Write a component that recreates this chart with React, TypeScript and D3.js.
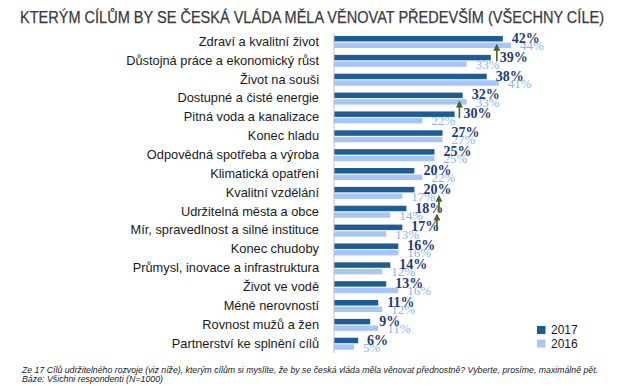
import React from 'react';
import * as d3 from 'd3';

const categories = [
  'Zdraví a kvalitní život',
  'Důstojná práce a ekonomický růst',
  'Život na souši',
  'Dostupné a čisté energie',
  'Pitná voda a kanalizace',
  'Konec hladu',
  'Odpovědná spotřeba a výroba',
  'Klimatická opatření',
  'Kvalitní vzdělání',
  'Udržitelná města a obce',
  'Mír, spravedlnost a silné instituce',
  'Konec chudoby',
  'Průmysl, inovace a infrastruktura',
  'Život ve vodě',
  'Méně nerovností',
  'Rovnost mužů a žen',
  'Partnerství ke splnění cílů',
];

const values2017 = [42, 39, 38, 32, 30, 27, 25, 20, 20, 18, 17, 16, 14, 13, 11, 9, 6];
const values2016 = [44, 33, 41, 33, 22, 27, 25, 22, 17, 14, 13, 16, 12, 16, 12, 11, 5];

// rows with a significant rise, and where the arrow sits (in % units)
const arrowRows = ['Důstojná práce a ekonomický růst', 'Pitná voda a kanalizace', 'Udržitelná města a obce', 'Mír, spravedlnost a silné instituce'];
const arrowAt = [40.5, 31.2, 26.1, 25.6];

const seriesNames = ['2017', '2016'];

const title = 'KTERÝM CÍLŮM BY SE ČESKÁ VLÁDA MĚLA VĚNOVAT PŘEDEVŠÍM (VŠECHNY CÍLE)';
const note1 = 'Ze 17 Cílů udržitelného rozvoje (viz níže), kterým cílům si myslíte, že by se česká vláda měla věnovat přednostně? Vyberte, prosíme, maximálně pět.';
const note2 = 'Báze: Všichni respondenti (N=1000)';

const W = 640;
const H = 386;
const DARK = '#1c5d98';
const LIGHT = '#a9c5f6';
const DARK_TEXT = '#1f3c76';
const LIGHT_TEXT = '#8fb3ec';
const GREEN = '#4f6228';

export default function App() {
  const x = d3.scaleLinear().domain([0, 44]).range([334, 334 + 44 * 4.02]);
  const y = d3.scaleBand<string>().domain(categories).range([33, 353.6]).padding(0);

  return (
    <svg width={W} height={H} style={{ position: 'absolute', left: 0, top: 0, background: '#fff' }}
      fontFamily="'Liberation Sans', Arial, sans-serif">
      <text x={20} y={23} fontSize={16.5} fill="#3a3a3a" stroke="#3a3a3a" strokeWidth={0.25}
        textLength={584} lengthAdjust="spacingAndGlyphs">{title}</text>

      {categories.map((c) => (
        <text key={c} x={319} y={y(c)! + 9.5} fontSize={12.8} fill="#1a1a1a" textAnchor="end" dominantBaseline="middle">{c}</text>
      ))}

      {categories.map((c, i) => (
        <g key={c}>
          <rect x={x(0)} y={y(c)! + 3} width={x(values2017[i]) - x(0)} height={5.5} fill={DARK} />
          <rect x={x(0)} y={y(c)! + 9.6} width={x(values2016[i]) - x(0)} height={5.4} fill={LIGHT} />
        </g>
      ))}

      <line x1={334} x2={334} y1={33} y2={353} stroke="#bfbfbf" strokeWidth={1} />

      {categories.map((c, i) => (
        <text key={c} x={x(values2016[i]) + 9} y={y(c)! + 17} fontSize={13} fill={LIGHT_TEXT}
          fontFamily="'Liberation Serif', 'Times New Roman', serif">{values2016[i]}%</text>
      ))}
      {categories.map((c, i) => (
        <text key={c} x={x(values2017[i]) + 9} y={y(c)! + 9.8} fontSize={14} fontWeight="bold" fill={DARK_TEXT}
          fontFamily="'Liberation Serif', 'Times New Roman', serif">{values2017[i]}%</text>
      ))}

      {arrowRows.map((c, i) => {
        const ax = x(arrowAt[i]);
        const top = y(c)! - 8;
        const bottom = y(c)! + 9.5;
        return (
          <g key={c}>
            <line x1={ax} x2={ax} y1={top + 5} y2={bottom} stroke={GREEN} strokeWidth={1.6} />
            <path d={`M${ax},${top} L${ax - 3.5},${top + 7} L${ax + 3.5},${top + 7} Z`} fill={GREEN} />
          </g>
        );
      })}

      {seriesNames.map((s, i) => (
        <g key={s} transform={`translate(537,${326 + i * 13.5})`}>
          <rect width={8.5} height={8} fill={i === 0 ? DARK : LIGHT} />
          <text x={14} y={8} fontSize={12} fill="#1a1a1a">{s}</text>
        </g>
      ))}

      <text x={22} y={372.5} fontSize={9} fontStyle="italic" fill="#1a1a1a" textLength={576} lengthAdjust="spacingAndGlyphs">{note1}</text>
      <text x={22} y={382} fontSize={9} fontStyle="italic" fill="#1a1a1a" textLength={141} lengthAdjust="spacingAndGlyphs">{note2}</text>
    </svg>
  );
}
